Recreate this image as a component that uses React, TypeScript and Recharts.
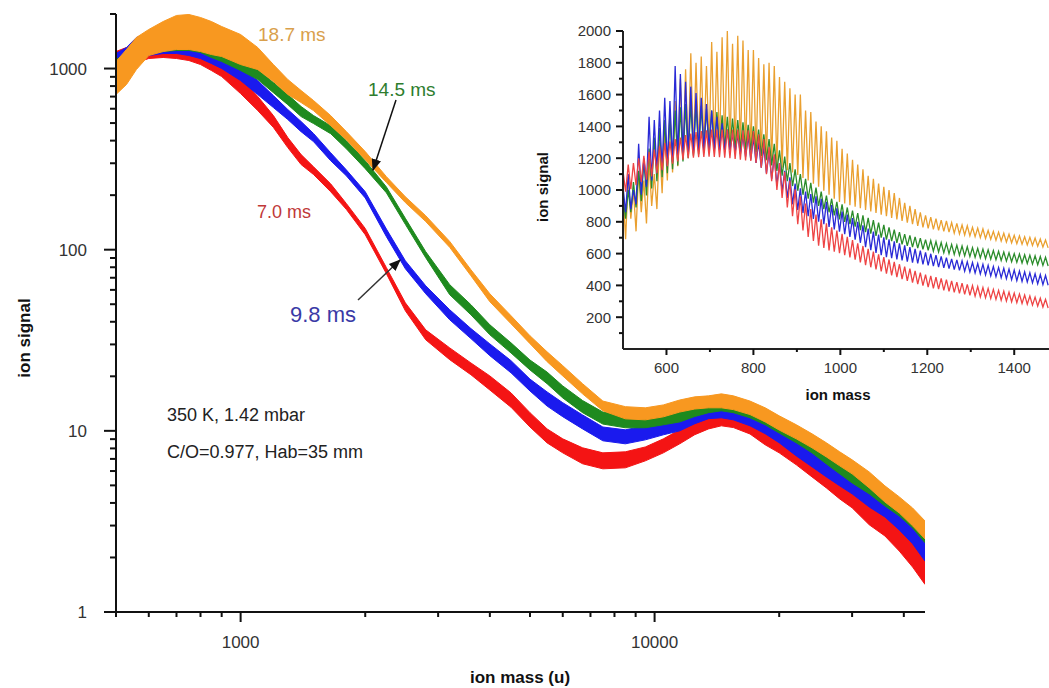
import React from 'react';
import { ComposedChart, Area, LineChart, Line, XAxis, YAxis } from 'recharts';

// ---- main panel: sampled masses (u) and band edges (lower / upper) per flow time ----
const mainMass = [
  500, 530, 560, 600, 650, 700, 750, 800, 850, 900,
  1000, 1100, 1200, 1300, 1400, 1500, 1650, 1800,
  2000, 2250, 2500, 2800, 3200, 3600,
  4000, 4500, 5000, 5500, 6000, 6700, 7500, 8500, 9500,
  10500, 11500, 12500, 13500, 14500, 15500, 17000, 18500,
  20000, 22000, 24000, 26000, 28000, 30000, 33000, 36000, 39000, 42000, 45000,
];

const redLo = [
  962, 1039, 1079, 1136, 1151, 1136, 1107, 1052, 975, 903,
  727, 586, 473, 366, 295, 260, 209, 167,
  121, 73.7, 46.0, 31.8, 24.7, 20.4,
  16.8, 13.5, 10.5, 8.58, 7.56, 6.58, 6.17, 6.25, 6.83,
  7.56, 8.48, 9.52, 10.25, 10.66, 10.43, 9.61, 8.37,
  7.56, 6.49, 5.57, 4.84, 4.21, 3.76, 3.03, 2.63, 2.17, 1.77, 1.42,
];
const redHi = [
  1242, 1306, 1356, 1391, 1410, 1391, 1357, 1290, 1194, 1107,
  891, 701, 550, 416, 335, 287, 231, 180,
  131, 79.6, 50.9, 36.1, 28.7, 23.7,
  20.1, 16.2, 12.6, 10.25, 9.03, 8.06, 7.56, 7.66, 8.15,
  9.03, 10.13, 11.37, 12.24, 12.73, 12.46, 11.48, 10.0,
  9.03, 7.95, 6.83, 5.93, 5.29, 4.72, 3.91, 3.4, 2.88, 2.4, 1.93,
];
const blueLo = [
  938, 1012, 1094, 1180, 1210, 1211, 1180, 1135, 1066, 1000,
  858, 718, 609, 523, 448, 395, 310, 256,
  193, 118, 78.5, 57.1, 41.0, 32.3,
  26.0, 20.9, 16.6, 13.7, 11.97, 10.25, 8.81, 8.48, 8.92,
  9.51, 10.0, 10.94, 11.68, 11.8, 11.5, 10.66, 9.64,
  8.59, 7.27, 6.33, 5.57, 4.97, 4.49, 3.8, 3.35, 2.84, 2.38, 1.91,
];
const blueHi = [
  1211, 1306, 1484, 1561, 1562, 1521, 1446, 1356, 1273, 1195,
  1025, 858, 709, 594, 510, 438, 343, 276,
  209, 130, 86.9, 63.2, 46.6, 36.7,
  30.2, 24.4, 19.3, 16.4, 14.3, 12.24, 10.5, 10.13, 10.66,
  11.07, 11.65, 12.73, 13.6, 13.7, 13.4, 12.4, 11.2,
  10.0, 8.69, 7.56, 6.66, 5.94, 5.5, 4.66, 4.11, 3.56, 3.07, 2.53,
];
const greenLo = [
  963, 1039, 1122, 1195, 1242, 1257, 1258, 1226, 1150, 1094,
  975, 870, 736, 632, 543, 497, 437, 361,
  280, 206, 138, 90.3, 56.4, 43.7,
  33.9, 26.9, 21.7, 18.2, 15.2, 12.6, 10.9, 10.4, 10.4,
  10.8, 11.2, 12.0, 12.6, 12.9, 12.6, 11.8, 10.8,
  9.73, 8.59, 7.56, 6.57, 5.79, 5.16, 4.49, 3.85, 3.39, 2.91, 2.41,
];
const greenHi = [
  1121, 1210, 1340, 1465, 1522, 1541, 1503, 1427, 1339, 1273,
  1135, 988, 837, 718, 617, 550, 484, 400,
  310, 222, 149, 97.5, 64.1, 49.7,
  38.5, 30.6, 24.6, 21.1, 17.7, 14.7, 12.7, 12.1, 12.1,
  12.6, 13.05, 13.9, 14.7, 15.0, 14.7, 13.7, 12.6,
  11.3, 10.0, 8.8, 7.85, 6.92, 6.16, 5.37, 4.72, 4.15, 3.56, 3.03,
];
const orangeLo = [
  719, 816, 987, 1180, 1241, 1274, 1274, 1241, 1195, 1165,
  1052, 987, 848, 719, 649, 586, 484, 405,
  314, 235, 182, 143, 103, 71.8,
  51.6, 39.0, 30.3, 24.1, 20.1, 16.0, 12.9, 11.65, 11.5,
  11.95, 12.7, 13.2, 13.4, 13.4, 13.1, 12.3, 11.2,
  10.1, 9.03, 8.06, 7.18, 6.41, 5.79, 4.84, 4.05, 3.52, 2.99, 2.53,
];
const orangeHi = [
  1093, 1274, 1484, 1643, 1818, 1963, 1988, 1913, 1818, 1706,
  1541, 1306, 1052, 870, 756, 666, 550, 449,
  348, 253, 196, 154, 111, 77.5,
  57.1, 43.2, 33.5, 27.3, 22.9, 18.2, 14.6, 13.6, 13.4,
  13.9, 14.8, 15.4, 15.6, 16.0, 15.6, 14.6, 13.4,
  12.1, 10.8, 9.63, 8.59, 7.66, 6.92, 5.93, 4.97, 4.32, 3.75, 3.18,
];

const mainXTicks = [500, 600, 700, 800, 900, 1000, 2000, 3000, 4000, 5000, 6000, 7000, 8000, 9000, 10000, 20000, 30000, 40000];
const mainXLabels = [1000, 10000];
const mainYTicks = [
  1, 2, 3, 4, 5, 6, 7, 8, 9, 10, 20, 30, 40, 50, 60, 70, 80, 90,
  100, 200, 300, 400, 500, 600, 700, 800, 900, 1000, 2000,
];
const mainYLabels = [1, 10, 100, 1000];

// ---- inset: the 12 u comb, peak and valley heights per flow time ----
const combCount = 82;
const peakMass = Array.from({ length: combCount }, (_, k) => 500 + 12 * k);
const valleyMass = peakMass.map((m) => m + 6);

const orangePeaks = [
  1000, 1080, 1000, 1120, 1060, 1180, 1100, 1300, 1380, 1500,
  1560, 1700, 1760, 1860, 1800, 1840, 1780, 1930, 1870, 1960,
  2000, 1920, 1970, 1940, 1880, 1880, 1830, 1790, 1800, 1780,
  1710, 1680, 1640, 1600, 1600, 1500, 1490, 1430, 1400, 1370,
  1330, 1310, 1260, 1230, 1190, 1160, 1130, 1090, 1070, 1040,
  1020, 1000, 980, 950, 920, 900, 880, 860, 840, 830,
  820, 810, 805, 795, 790, 780, 775, 765, 760, 755,
  745, 740, 735, 728, 722, 715, 712, 706, 702, 698,
  692, 686,
];
const orangeValleys = [
  690, 820, 740, 860, 790, 900, 880, 980, 1060, 1110,
  1150, 1190, 1220, 1235, 1250, 1255, 1260, 1260, 1260, 1260,
  1255, 1250, 1245, 1235, 1225, 1210, 1200, 1185, 1170, 1155,
  1140, 1125, 1110, 1095, 1075, 1060, 1040, 1020, 995, 970,
  945, 925, 915, 905, 895, 885, 875, 865, 855, 845,
  835, 825, 815, 805, 795, 785, 775, 765, 758, 752,
  746, 740, 735, 729, 723, 717, 711, 706, 700, 695,
  690, 684, 679, 673, 668, 663, 659, 655, 651, 646,
  641, 636,
];
const greenPeaks = [
  950, 1000, 1050, 1120, 1190, 1260, 1330, 1390, 1440, 1470,
  1500, 1520, 1540, 1550, 1540, 1530, 1510, 1500, 1490, 1470,
  1460, 1450, 1440, 1425, 1410, 1400, 1380, 1350, 1320, 1290,
  1250, 1210, 1170, 1130, 1100, 1070, 1045, 1015, 990, 965,
  945, 925, 910, 890, 870, 855, 840, 825, 810, 795,
  780, 765, 750, 735, 722, 714, 705, 697, 688, 682,
  676, 670, 664, 658, 653, 648, 643, 638, 633, 628,
  624, 619, 614, 610, 605, 600, 597, 593, 590, 586,
  582, 577,
];
const greenValleys = [
  820, 860, 890, 930, 965, 1010, 1055, 1080, 1105, 1130,
  1155, 1180, 1200, 1215, 1225, 1235, 1245, 1250, 1255, 1258,
  1260, 1258, 1255, 1252, 1250, 1240, 1215, 1190, 1155, 1120,
  1090, 1055, 1025, 995, 970, 945, 920, 900, 880, 860,
  840, 815, 800, 785, 770, 748, 735, 725, 712, 700,
  688, 678, 668, 658, 648, 641, 634, 627, 621, 616,
  610, 605, 600, 595, 590, 586, 581, 577, 573, 569,
  565, 561, 557, 553, 549, 545, 541, 538, 534, 530,
  526, 522,
];
const bluePeaks = [
  1020, 1100, 1000, 1290, 1200, 1460, 1440, 1500, 1580, 1560,
  1780, 1730, 1680, 1650, 1610, 1580, 1540, 1500, 1460, 1420,
  1380, 1350, 1345, 1340, 1335, 1330, 1300, 1270, 1240, 1210,
  1170, 1120, 1080, 1040, 1010, 990, 975, 960, 945, 925,
  905, 885, 865, 845, 823, 800, 778, 758, 738, 720,
  703, 690, 677, 664, 652, 641, 630, 619, 607, 599,
  591, 583, 575, 567, 561, 555, 549, 544, 538, 532,
  526, 519, 513, 507, 502, 496, 490, 485, 479, 473,
  468, 462,
];
const blueValleys = [
  860, 880, 910, 970, 1020, 1060, 1105, 1125, 1150, 1175,
  1200, 1210, 1220, 1230, 1240, 1245, 1250, 1250, 1250, 1250,
  1250, 1240, 1225, 1210, 1190, 1170, 1140, 1105, 1070, 1030,
  990, 950, 910, 875, 855, 835, 818, 800, 785, 768,
  752, 738, 722, 705, 688, 668, 640, 622, 605, 590,
  578, 571, 564, 557, 549, 543, 538, 532, 526, 521,
  515, 510, 505, 500, 494, 489, 484, 478, 472, 466,
  460, 454, 448, 442, 436, 430, 425, 421, 416, 410,
  405, 401,
];
const redPeaks = [
  1120, 1160, 1170, 1200, 1215, 1240, 1255, 1275, 1295, 1305,
  1320, 1330, 1345, 1355, 1365, 1370, 1375, 1380, 1380, 1380,
  1380, 1380, 1380, 1375, 1375, 1370, 1350, 1320, 1270, 1225,
  1170, 1115, 1060, 1005, 960, 915, 880, 845, 815, 790,
  765, 745, 725, 705, 685, 665, 648, 630, 612, 595,
  578, 563, 548, 533, 518, 505, 492, 480, 468, 460,
  452, 444, 436, 428, 421, 414, 406, 399, 393, 387,
  381, 375, 369, 364, 358, 352, 346, 340, 333, 326,
  319, 312,
];
const redValleys = [
  990, 1005, 1030, 1050, 1065, 1085, 1105, 1125, 1150, 1165,
  1180, 1190, 1200, 1203, 1206, 1208, 1210, 1208, 1206, 1203,
  1200, 1196, 1190, 1186, 1182, 1170, 1140, 1100, 1055, 1000,
  950, 890, 835, 785, 745, 705, 680, 650, 635, 620,
  612, 602, 590, 576, 562, 545, 528, 514, 500, 488,
  474, 463, 452, 440, 428, 418, 408, 398, 389, 382,
  376, 369, 362, 356, 350, 344, 338, 333, 328, 322,
  317, 312, 307, 302, 297, 292, 287, 282, 276, 270,
  264, 258,
];

const insetXTicks = [600, 700, 800, 900, 1000, 1100, 1200, 1300, 1400];
const insetXLabels = [600, 800, 1000, 1200, 1400];
const insetYTicks = [100, 200, 300, 400, 500, 600, 700, 800, 900, 1000, 1100, 1200, 1300, 1400, 1500, 1600, 1700, 1800, 1900, 2000];
const insetYLabels = [200, 400, 600, 800, 1000, 1200, 1400, 1600, 1800, 2000];

const mainRows = mainMass.map((m, i) => ({
  m,
  red: [redLo[i], redHi[i]],
  blue: [blueLo[i], blueHi[i]],
  green: [greenLo[i], greenHi[i]],
  orange: [orangeLo[i], orangeHi[i]],
}));

const insetRows = peakMass.flatMap((m, k) => [
  { m, red: redPeaks[k], blue: bluePeaks[k], green: greenPeaks[k], orange: orangePeaks[k] },
  { m: valleyMass[k], red: redValleys[k], blue: blueValleys[k], green: greenValleys[k], orange: orangeValleys[k] },
]);

const FONT = '"Liberation Sans", Arial, sans-serif';

function makeXTick(labels: number[], major: number, minor: number, gap: number, size: number) {
  return function XTick(props: any) {
    const { x, y, payload } = props;
    const big = labels.includes(payload.value);
    return (
      <g>
        <line x1={x} x2={x} y1={y} y2={y + (big ? major : minor)} stroke="#111" strokeWidth={2} />
        {big && (
          <text x={x} y={y + gap} textAnchor="middle" fontSize={size} fill="#333" fontFamily={FONT}>
            {payload.value}
          </text>
        )}
      </g>
    );
  };
}

function makeYTick(labels: number[], major: number, minor: number, gap: number, size: number) {
  return function YTick(props: any) {
    const { x, y, payload } = props;
    const big = labels.includes(payload.value);
    return (
      <g>
        <line x1={x - (big ? major : minor)} x2={x} y1={y} y2={y} stroke="#111" strokeWidth={2} />
        {big && (
          <text x={x - gap} y={y} dy="0.36em" textAnchor="end" fontSize={size} fill="#333" fontFamily={FONT}>
            {payload.value}
          </text>
        )}
      </g>
    );
  };
}

const MainXTick = makeXTick(mainXLabels, 10, 5, 36, 17);
const MainYTick = makeYTick(mainYLabels, 12, 6, 29, 17);
const InsetXTick = makeXTick(insetXLabels, 6, 3, 24, 15);
const InsetYTick = makeYTick(insetYLabels, 7, 4, 12, 15);

const mainColors = { red: '#f41414', blue: '#1a1aee', green: '#1e8a1e', orange: '#f89820' };
const insetColors = { red: '#ee4444', blue: '#2a2ad6', green: '#2b8c2b', orange: '#eaa030' };

export default function App() {
  return (
    <div
      style={{
        position: 'absolute',
        left: 0,
        top: 0,
        width: 1049,
        height: 688,
        overflow: 'hidden',
        background: '#fff',
        fontFamily: FONT,
      }}
    >
      <div style={{ position: 'absolute', left: 0, top: 0 }}>
        <ComposedChart width={1049} height={688} data={mainRows} margin={{ top: 14, right: 124, bottom: 46, left: 56 }}>
          <XAxis
            dataKey="m"
            type="number"
            scale="log"
            domain={[500, 45000]}
            allowDataOverflow
            ticks={mainXTicks}
            interval={0}
            tick={<MainXTick />}
            tickLine={false}
            tickSize={0}
            tickMargin={0}
            height={30}
            axisLine={{ stroke: '#111', strokeWidth: 2 }}
          />
          <YAxis
            type="number"
            scale="log"
            domain={[1, 2000]}
            allowDataOverflow
            ticks={mainYTicks}
            interval={0}
            tick={<MainYTick />}
            tickLine={false}
            tickSize={0}
            tickMargin={0}
            width={60}
            axisLine={{ stroke: '#111', strokeWidth: 2 }}
          />
          {(['red', 'blue', 'green', 'orange'] as const).map((k) => (
            <Area
              key={k}
              type="linear"
              dataKey={k}
              stroke={mainColors[k]}
              strokeWidth={1}
              fill={mainColors[k]}
              fillOpacity={1}
              dot={false}
              activeDot={false}
              isAnimationActive={false}
            />
          ))}
        </ComposedChart>
      </div>

      <div style={{ position: 'absolute', left: 540, top: 0 }}>
        <LineChart width={509} height={420} data={insetRows} margin={{ top: 31, right: 0, bottom: 41, left: 33 }}>
          <XAxis
            dataKey="m"
            type="number"
            domain={[500, 1480]}
            allowDataOverflow
            ticks={insetXTicks}
            interval={0}
            tick={<InsetXTick />}
            tickLine={false}
            tickSize={0}
            tickMargin={0}
            height={30}
            axisLine={{ stroke: '#222', strokeWidth: 2 }}
          />
          <YAxis
            type="number"
            domain={[0, 2000]}
            allowDataOverflow
            ticks={insetYTicks}
            interval={0}
            tick={<InsetYTick />}
            tickLine={false}
            tickSize={0}
            tickMargin={0}
            width={50}
            axisLine={{ stroke: '#222', strokeWidth: 2 }}
          />
          {(['orange', 'green', 'blue', 'red'] as const).map((k) => (
            <Line
              key={k}
              type="linear"
              dataKey={k}
              stroke={insetColors[k]}
              strokeWidth={1.3}
              dot={false}
              activeDot={false}
              isAnimationActive={false}
            />
          ))}
        </LineChart>
      </div>

      <svg width={1049} height={688} style={{ position: 'absolute', left: 0, top: 0, pointerEvents: 'none' }}>
        <defs>
          <marker id="arrowHead" viewBox="0 0 10 10" refX="9" refY="5" markerWidth="8" markerHeight="8" orient="auto">
            <path d="M0,1 L10,5 L0,9 z" fill="#111" />
          </marker>
        </defs>
        <text x={30} y={338} transform="rotate(-90 30 338)" textAnchor="middle" fontWeight="bold" fontSize={17} fill="#111">
          ion signal
        </text>
        <text x={520} y={683} textAnchor="middle" fontWeight="bold" fontSize={17} fill="#111">
          ion mass (u)
        </text>
        <text x={258} y={41} fontSize={19} fill="#d9a04c">18.7 ms</text>
        <text x={368} y={96} fontSize={19} fill="#2e7d2e">14.5 ms</text>
        <text x={257} y={218} fontSize={18} fill="#c03838">7.0 ms</text>
        <text x={290} y={322} fontSize={22} fill="#3a3aa6">9.8 ms</text>
        <line x1={396} y1={100} x2={373} y2={170} stroke="#111" strokeWidth={1.5} markerEnd="url(#arrowHead)" />
        <line x1={358} y1={300} x2={400} y2={260} stroke="#333" strokeWidth={1.5} markerEnd="url(#arrowHead)" />
        <text x={167} y={421} fontSize={18} fill="#222">350 K, 1.42 mbar</text>
        <text x={167} y={458} fontSize={18} fill="#222">C/O=0.977, Hab=35 mm</text>
        <text x={548} y={187} transform="rotate(-90 548 187)" textAnchor="middle" fontWeight="bold" fontSize={15} fill="#111">
          ion signal
        </text>
        <text x={838} y={400} textAnchor="middle" fontWeight="bold" fontSize={15} fill="#111">
          ion mass
        </text>
      </svg>
    </div>
  );
}
